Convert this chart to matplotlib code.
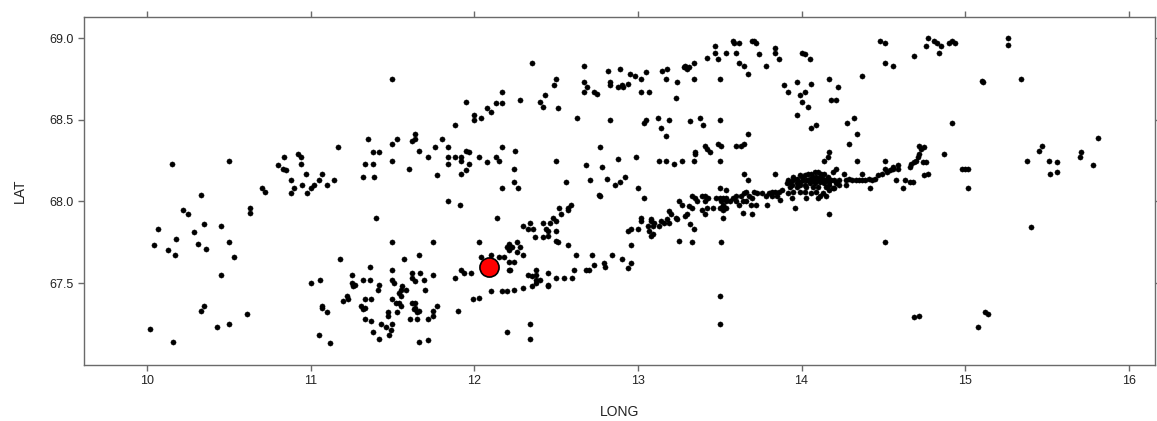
import matplotlib

matplotlib.use("Agg")
import matplotlib.pyplot as plt  # noqa: E402
import numpy as np  # noqa: E402

plt.rcParams["font.family"] = ["Liberation Sans", "DejaVu Sans"]

FRAME = "#6a6a6a"
INK = "#222222"

# station positions (LONG, LAT)
NORTH = [
    (11.50, 68.75), (12.35, 68.85), (12.67, 68.83), (12.82, 68.80), (12.89, 68.81),
    (12.50, 68.75), (12.49, 68.71), (12.67, 68.73), (12.69, 68.70), (12.67, 68.67),
    (12.73, 68.67), (12.75, 68.66), (12.83, 68.73), (12.83, 68.71), (12.88, 68.70),
    (12.90, 68.71), (12.91, 68.70), (12.43, 68.65), (12.40, 68.61), (12.42, 68.58),
    (12.51, 68.57), (12.28, 68.62), (12.17, 68.67), (12.13, 68.60), (12.17, 68.60),
    (11.95, 68.61), (12.08, 68.57), (12.10, 68.55), (12.00, 68.53), (12.04, 68.51),
    (12.00, 68.50), (11.88, 68.47), (12.63, 68.51), (12.83, 68.50),
    (12.95, 68.78), (12.98, 68.77), (13.02, 68.75), (13.05, 68.79), (12.94, 68.72),
    (13.15, 68.80), (13.18, 68.81), (13.02, 68.67), (13.07, 68.67), (13.17, 68.75),
    (13.24, 68.73), (13.23, 68.63), (13.28, 68.82), (13.29, 68.82), (13.31, 68.82),
    (13.29, 68.83), (13.30, 68.81), (13.34, 68.85), (13.42, 68.88), (13.47, 68.95),
    (13.47, 68.91), (13.49, 68.87), (13.54, 68.91), (13.58, 68.98), (13.62, 68.97),
    (13.59, 68.97), (13.70, 68.98), (13.72, 68.97), (13.71, 68.98), (13.60, 68.91),
    (13.62, 68.85), (13.65, 68.83), (13.67, 68.78), (13.74, 68.90), (13.78, 68.83),
    (13.84, 68.94), (13.84, 68.91), (13.86, 68.87), (14.00, 68.91), (14.02, 68.90),
    (14.05, 68.87), (13.34, 68.75), (13.50, 68.75), (13.89, 68.71), (13.97, 68.73),
    (14.06, 68.72), (14.17, 68.75), (14.22, 68.70), (13.92, 68.67), (13.99, 68.65),
    (14.02, 68.67), (14.00, 68.61), (14.04, 68.58), (13.97, 68.53), (14.18, 68.62),
    (14.21, 68.62), (14.37, 68.77), (14.48, 68.98), (14.51, 68.97), (14.51, 68.85),
    (14.56, 68.83), (13.04, 68.48), (13.05, 68.50), (13.12, 68.51), (13.19, 68.50),
    (13.32, 68.49), (13.38, 68.51), (13.40, 68.47), (13.50, 68.50), (13.14, 68.45),
    (14.06, 68.45), (14.09, 68.47), (14.28, 68.48), (14.32, 68.51),
    (14.77, 69.00), (14.76, 68.95), (14.81, 68.98), (14.83, 68.97), (14.85, 68.95),
    (14.84, 68.91), (14.90, 68.97), (14.92, 68.98), (14.94, 68.97), (14.69, 68.89),
    (15.26, 69.00), (15.26, 68.96), (15.10, 68.74), (15.11, 68.73), (15.34, 68.75),
    (14.92, 68.48),
]

WEST = [
    (10.15, 68.23), (10.50, 68.25), (11.17, 68.33), (10.84, 68.27), (10.92, 68.29),
    (10.94, 68.27), (10.94, 68.23), (10.80, 68.22), (10.83, 68.20), (10.85, 68.19),
    (10.97, 68.17), (11.07, 68.17), (10.88, 68.13), (11.05, 68.13), (11.14, 68.13),
    (10.90, 68.08), (10.95, 68.10), (11.02, 68.10), (11.00, 68.08), (11.10, 68.10),
    (10.88, 68.05), (10.98, 68.05), (10.70, 68.08), (10.72, 68.06), (10.33, 68.04),
    (10.22, 67.95), (10.25, 67.92), (10.63, 67.96), (10.63, 67.93), (10.35, 67.86),
    (10.45, 67.85), (10.07, 67.83), (10.29, 67.81), (10.18, 67.77), (10.04, 67.73),
    (10.31, 67.74), (10.50, 67.75), (10.36, 67.71), (10.13, 67.70),
    (10.17, 67.67), (10.53, 67.66), (11.18, 67.65), (10.45, 67.55), (11.00, 67.50),
    (11.06, 67.52), (11.25, 67.55), (11.25, 67.50), (11.26, 67.48), (11.22, 67.42),
    (11.23, 67.40), (11.20, 67.39), (10.35, 67.36), (10.33, 67.33), (10.61, 67.31),
    (11.07, 67.36), (11.07, 67.35), (11.10, 67.32), (10.43, 67.23), (10.50, 67.25),
    (10.02, 67.22), (10.16, 67.14), (11.05, 67.18), (11.12, 67.13),
]

CENTRE = [
    (11.35, 68.38), (11.53, 68.38), (11.50, 68.35), (11.64, 68.41), (11.62, 68.37),
    (11.64, 68.38), (11.80, 68.38), (11.76, 68.33), (11.84, 68.33), (11.66, 68.31),
    (11.38, 68.30), (11.42, 68.30), (11.33, 68.23), (11.38, 68.23), (11.50, 68.25),
    (11.72, 68.27), (11.84, 68.27), (11.84, 68.23), (11.88, 68.27), (11.92, 68.27),
    (11.92, 68.25), (11.95, 68.31), (11.97, 68.30), (11.97, 68.23), (12.03, 68.27),
    (12.08, 68.24), (12.13, 68.27), (12.15, 68.25), (12.17, 68.33), (12.25, 68.31),
    (11.60, 68.20), (11.32, 68.15), (11.39, 68.15), (11.77, 68.16), (11.92, 68.17),
    (11.95, 68.19), (12.24, 68.20), (12.24, 68.12), (12.17, 68.08), (12.27, 68.08),
    (12.50, 68.25), (12.56, 68.12), (12.77, 68.33), (12.68, 68.22), (12.78, 68.21),
    (12.88, 68.26), (12.71, 68.13), (12.81, 68.14), (12.86, 68.10), (12.89, 68.12),
    (12.92, 68.15), (12.76, 68.04), (12.77, 68.03), (11.84, 68.00), (11.91, 67.98),
    (11.40, 67.90), (12.14, 67.90), (12.59, 67.98), (12.57, 67.96), (12.52, 67.96),
    (12.57, 67.95), (12.53, 67.92), (12.48, 67.90), (12.50, 67.88), (12.34, 67.87),
    (12.30, 67.85), (12.33, 67.83), (12.36, 67.83), (12.42, 67.87), (12.46, 67.87),
    (12.44, 67.83), (12.45, 67.82), (12.50, 67.82), (12.37, 67.78), (12.42, 67.78),
    (12.45, 67.79), (12.50, 67.76), (12.51, 67.75), (12.57, 67.73), (11.50, 67.75),
    (11.75, 67.75), (12.03, 67.75), (12.21, 67.74), (12.26, 67.75), (12.23, 67.72),
    (12.28, 67.72), (12.20, 67.72),
    (11.66, 67.67), (11.57, 67.65), (11.36, 67.60), (11.50, 67.58), (11.62, 67.56),
    (11.67, 67.56), (11.75, 67.55), (11.32, 67.52), (11.36, 67.52), (11.50, 67.52),
    (11.51, 67.50), (11.62, 67.53), (11.64, 67.51), (11.69, 67.52), (11.27, 67.49),
    (11.42, 67.49), (11.41, 67.46), (11.56, 67.48), (11.58, 67.46), (11.55, 67.46),
    (11.54, 67.44), (11.70, 67.46), (11.55, 67.42), (11.33, 67.40), (11.37, 67.40),
    (11.50, 67.40), (11.52, 67.38), (11.54, 67.38), (11.55, 67.36), (11.31, 67.36),
    (11.33, 67.35), (11.32, 67.34), (11.62, 67.38), (11.64, 67.38), (11.64, 67.35),
    (11.63, 67.34), (11.66, 67.33), (11.65, 67.32), (11.77, 67.36), (11.75, 67.33),
    (11.75, 67.30), (11.72, 67.28), (11.47, 67.32), (11.47, 67.30), (11.53, 67.32),
    (11.33, 67.28), (11.37, 67.27), (11.61, 67.28), (11.65, 67.28), (11.43, 67.25),
    (11.46, 67.23), (11.50, 67.25), (11.49, 67.21), (11.38, 67.20), (11.42, 67.16),
    (11.48, 67.18), (11.66, 67.14), (11.72, 67.15), (11.88, 67.53), (11.92, 67.58),
    (11.94, 67.56), (11.98, 67.56), (11.90, 67.33), (11.99, 67.40), (12.03, 67.41),
    (12.10, 67.45), (12.17, 67.45), (12.20, 67.45), (12.24, 67.46), (12.30, 67.47),
    (12.35, 67.48), (12.38, 67.50), (12.33, 67.55), (12.35, 67.54), (12.38, 67.58),
    (12.38, 67.55), (12.45, 67.56), (12.38, 67.52), (12.40, 67.52), (12.45, 67.49),
    (12.45, 67.48), (12.50, 67.53), (12.55, 67.53), (12.60, 67.53), (12.61, 67.58),
    (12.62, 67.67), (12.72, 67.67), (12.84, 67.67), (12.90, 67.65), (12.68, 67.58),
    (12.70, 67.58), (12.73, 67.61), (12.79, 67.62), (12.80, 67.60), (12.04, 67.66),
    (12.10, 67.67), (12.15, 67.66), (12.18, 67.66), (12.21, 67.63), (12.24, 67.63),
    (12.21, 67.58), (12.22, 67.58), (12.21, 67.70), (12.26, 67.69), (12.30, 67.67),
    (12.34, 67.25), (12.34, 67.16), (12.20, 67.20),
    (12.96, 67.62), (12.94, 67.59), (13.50, 67.42), (13.50, 67.25),
]

BAND = [
    (13.17, 68.40), (13.67, 68.41), (14.34, 68.41), (14.29, 68.35), (13.41, 68.34),
    (13.42, 68.32), (13.44, 68.30), (13.49, 68.35), (13.51, 68.34), (13.60, 68.34),
    (13.63, 68.34), (13.65, 68.35), (13.35, 68.30), (13.35, 68.29), (12.99, 68.27),
    (13.13, 68.25), (13.17, 68.25), (13.22, 68.23), (13.27, 68.25), (13.34, 68.25),
    (13.50, 68.25), (14.17, 68.30), (14.16, 68.27), (14.14, 68.25), (14.34, 68.25),
    (14.51, 68.25), (14.21, 68.20), (14.19, 68.18), (14.26, 68.17), (14.37, 68.17),
    (14.51, 68.20), (14.56, 68.21), (13.65, 68.17), (13.67, 68.13), (13.84, 68.17),
    (13.00, 68.08), (13.04, 68.02), (13.25, 68.00), (13.27, 67.98), (13.33, 68.03),
    (13.35, 68.02), (13.36, 68.00), (13.39, 68.03), (13.41, 68.03), (13.43, 68.02),
    (13.41, 68.00), (13.48, 68.02), (13.50, 68.02), (13.52, 68.02), (13.54, 68.02),
    (13.51, 68.00), (13.52, 67.98), (13.54, 68.00), (13.56, 68.00), (13.58, 68.02),
    (13.60, 68.03), (13.63, 68.03), (13.65, 68.05), (13.66, 68.06), (13.68, 68.03),
    (13.70, 68.02), (13.71, 68.06), (13.73, 68.05), (13.76, 68.05), (13.78, 68.03),
    (13.80, 68.05), (13.82, 68.06), (13.84, 68.06), (13.86, 68.06), (13.88, 68.07),
    (13.85, 68.03), (13.87, 68.01), (13.79, 67.98), (13.82, 68.03), (13.50, 68.08),
    (13.54, 68.07), (13.60, 68.00), (13.62, 67.98), (13.64, 68.00), (13.66, 68.00),
    (13.69, 67.98), (13.72, 67.98), (13.50, 67.96), (13.52, 67.95), (13.54, 67.96),
    (13.39, 67.95), (13.42, 67.96), (13.46, 67.96), (13.31, 67.97), (13.33, 67.96),
    (13.19, 67.94), (13.20, 67.92), (13.23, 67.90), (13.24, 67.89), (13.18, 67.89),
    (13.16, 67.87), (13.19, 67.87), (13.13, 67.85), (13.09, 67.85), (13.06, 67.85),
    (13.02, 67.90), (13.02, 67.88), (13.08, 67.89), (13.08, 67.88), (13.10, 67.87),
    (13.14, 67.88), (13.29, 67.91), (13.30, 67.92), (13.32, 67.86), (13.34, 67.83),
    (13.41, 67.92), (13.52, 67.90), (13.64, 67.93), (13.70, 67.92), (13.25, 67.76),
    (13.33, 67.75), (13.51, 67.75), (12.96, 67.73), (12.94, 67.82), (12.96, 67.83),
    (13.00, 67.83), (13.07, 67.82), (13.08, 67.79), (13.09, 67.80), (13.96, 67.96),
    (14.17, 67.92), (14.51, 67.75),
    (13.92, 68.05), (13.94, 68.02), (13.95, 68.06), (13.99, 68.06), (14.02, 68.06),
    (14.03, 68.02), (14.06, 68.05), (14.09, 68.06), (14.10, 68.02), (14.11, 68.03),
    (14.13, 68.05), (14.15, 68.03), (14.17, 68.07), (14.20, 68.08), (14.23, 68.10),
    (14.27, 68.10), (14.31, 68.13), (14.33, 68.13), (14.35, 68.13), (14.37, 68.13),
    (14.39, 68.13), (14.41, 68.14), (14.43, 68.13), (14.45, 68.14), (14.47, 68.16),
    (14.49, 68.17), (14.52, 68.18), (14.54, 68.19), (14.56, 68.20), (14.42, 68.08),
    (14.27, 68.13), (14.29, 68.14),
    (13.91, 68.11), (13.93, 68.12), (13.95, 68.13), (13.97, 68.14), (14.00, 68.15),
    (14.02, 68.16), (14.04, 68.17), (14.06, 68.17), (14.08, 68.18), (14.10, 68.18),
    (14.12, 68.17), (14.14, 68.17), (14.16, 68.15), (14.18, 68.13), (14.20, 68.13),
    (13.94, 68.10), (13.97, 68.11), (13.99, 68.12), (14.01, 68.13), (14.03, 68.13),
    (14.05, 68.14), (14.07, 68.15), (14.09, 68.15), (14.11, 68.15), (14.13, 68.14),
    (14.15, 68.13), (14.17, 68.12), (13.99, 68.10), (14.02, 68.10), (14.05, 68.11),
    (14.08, 68.11), (14.11, 68.12), (14.14, 68.11), (14.17, 68.10), (14.04, 68.13),
    (14.07, 68.13), (14.10, 68.13), (14.13, 68.13), (14.21, 68.11), (14.23, 68.13),
    (13.95, 68.15), (13.99, 68.16), (13.92, 68.13), (14.15, 68.09), (14.19, 68.08),
    (14.10, 68.09), (14.07, 68.09), (14.03, 68.09), (13.97, 68.09), (13.93, 68.09),
]

EAST = [
    (14.72, 68.34), (14.75, 68.33), (14.73, 68.32), (14.72, 68.29), (14.71, 68.27),
    (14.70, 68.25), (14.69, 68.24), (14.74, 68.24), (14.76, 68.24), (14.67, 68.23),
    (14.59, 68.22), (14.59, 68.20), (14.66, 68.21), (14.87, 68.29), (14.98, 68.20),
    (15.00, 68.20), (15.02, 68.20), (14.75, 68.16), (14.77, 68.17), (14.58, 68.13),
    (14.63, 68.13), (14.66, 68.12), (14.68, 68.12), (14.62, 68.08), (15.02, 68.08),
    (15.38, 68.25), (15.45, 68.31), (15.47, 68.34), (15.51, 68.25), (15.56, 68.24),
    (15.56, 68.18), (15.52, 68.17), (15.70, 68.27), (15.71, 68.30), (15.81, 68.39),
    (15.78, 68.22), (15.40, 67.84),
    (14.69, 67.29), (14.72, 67.30), (15.12, 67.32), (15.14, 67.31), (15.08, 67.23),
]

# highlighted site
SITE_LONG = [12.09]
SITE_LAT = [67.60]

XTICKS = [10, 11, 12, 13, 14, 15, 16]
YTICKS = [67.5, 68.0, 68.5, 69.0]

pts = np.array(NORTH + WEST + CENTRE + BAND + EAST)
lon, lat = pts[:, 0], pts[:, 1]

fig = plt.figure(figsize=(11.57, 4.21), dpi=100)
ax = fig.add_axes([84 / 1157, 56 / 421, 1071 / 1157, 348.5 / 421])

ax.scatter(lon, lat, s=14, c="black", edgecolors="black", linewidths=0.3, zorder=2)
ax.scatter(SITE_LONG, SITE_LAT, s=190, c="red", edgecolors="black",
           linewidths=1.2, zorder=3)

ax.set_xlim(9.615, 16.16)
ax.set_ylim(66.998, 69.132)
ax.set_xticks(XTICKS)
ax.set_xticklabels([str(t) for t in XTICKS])
ax.set_yticks(YTICKS)
ax.set_yticklabels([f"{t:.1f}" for t in YTICKS])

for s in ax.spines.values():
    s.set_color(FRAME)
    s.set_linewidth(1.0)
ax.tick_params(direction="out", length=4.5, width=1.0, color=FRAME,
               top=True, right=True, labeltop=False, labelright=False,
               labelsize=9, labelcolor=INK, pad=3)

ax.set_xlabel("LONG", fontsize=10, color=INK, labelpad=13)
ax.set_ylabel("LAT", fontsize=10, color=INK, labelpad=16)

fig.savefig("out.png", dpi=100, facecolor="white")
